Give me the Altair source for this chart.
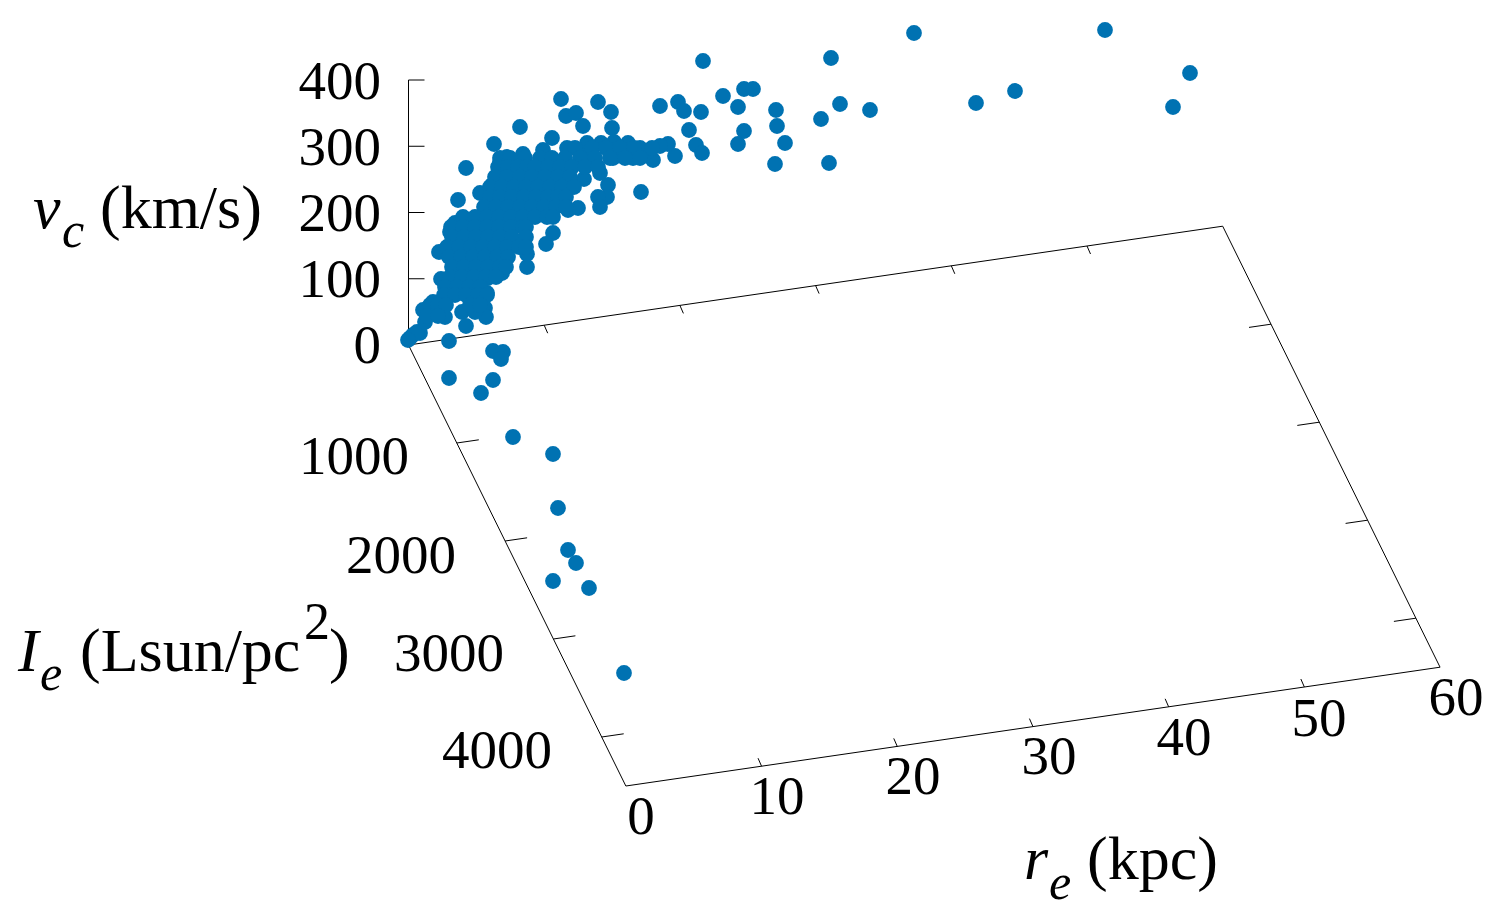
import altair as alt
import pandas as pd

# Screen-plane positions of the galaxies
outer_x = [914,1105,1190,1173,1015,976,703,831,840,870,821,776,777,785,775,829,744,738,723,738,744,753,
           678,684,701,660,689,696,702,675,668,660,641,
           561,598,611,566,576,583,612,520,494,466,653,647,633,628,640,614,613,601,587,585,600,608,607,598,600,
           584,578,568,553,546,552,543,567,523,507,500,480,458,492,439,450,455,441,487,527,527,502,488,
           445,462,485,486,466,475,423,433,443,420,413,410,417,425,408,
           449,493,503,501,449,493,481,513,553,558,568,576,553,589,624]
outer_y = [33,30,73,107,91,103,61,58,104,110,119,110,126,143,164,163,131,144,96,107,89,89,
           102,111,112,106,130,145,153,156,144,146,192,
           99,102,112,116,113,126,128,127,144,168,160,152,158,143,148,142,158,143,143,155,173,185,197,197,207,
           179,208,210,233,244,138,150,148,154,157,162,193,200,185,252,232,223,279,293,267,254,273,278,
           317,312,308,317,326,312,310,302,302,333,335,338,332,322,340,
           341,351,352,359,378,380,393,437,454,508,550,563,581,588,673]

# Dense cluster, row by row
cluster_rows = {
    148: [575,592,606,620,634,652],
    158: [500,510,525,540,552,565,580,595,610,625,640],
    167: [498,508,518,527,535,548,560,572,585,598],
    177: [495,507,520,532,545,558,570],
    187: [490,502,514,526,538,550,562,574],
    197: [490,500,512,524,536,548,558,566],
    207: [484,496,508,520,532,544,556,566],
    217: [463,475,487,499,511,523,535,547,553],
    227: [451,463,475,487,499,511,523,526],
    237: [452,464,476,488,500,512,526],
    247: [447,459,471,483,495,507,519,526],
    257: [449,461,473,485,497,508],
    267: [452,464,476,488,500,506],
    277: [450,462,474,486,496],
    287: [445,457,469,480],
    295: [444,455,466,478,487],
    305: [430,438,446,470,480],
    316: [427,438],
}

# Axis ticks and labels
re_ticks = [10, 20, 30, 40, 50]
ie_ticks = [1000, 2000, 3000, 4000]
vc_ticks = [100, 200, 300, 400]
RE_MAX, IE_MAX = 60, 4500

def project(re, ie, vc=0):
    return (408.5 + re * 13.57 + ie * 0.0483, 345 - re * 1.98 + ie * 0.098 - vc * 0.6625)

segments = []
def seg(a, b, d=(0, 0)):
    p, q = project(*a), project(*b)
    segments.append(dict(x=p[0], y=p[1], x2=q[0] + d[0], y2=q[1] + d[1]))

seg((0, 0), (RE_MAX, 0)); seg((RE_MAX, 0), (RE_MAX, IE_MAX))
seg((RE_MAX, IE_MAX), (0, IE_MAX)); seg((0, IE_MAX), (0, 0))
seg((0, 0, 0), (0, 0, 400))
for r in re_ticks:
    seg((r, 0), (r, 0), (3.5, 8))
    seg((r, IE_MAX), (r, IE_MAX), (-3.5, -8))
for i in ie_ticks:
    seg((0, i), (0, i), (22, -3.2))
    seg((RE_MAX, i), (RE_MAX, i), (-22, 3.2))
for v in vc_ticks:
    seg((0, 0, v), (0, 0, v), (16, 0))

tick_text = ["400","300","200","100","0","1000","2000","3000","4000"]
tick_x = [381,381,381,381,381,409,456,504,552]
tick_y = [99,165,231,297,363,474,573,671,768]
re_text = ["0","10","20","30","40","50","60"]
re_x = [641,777,913,1049,1184,1319,1456]
re_y = [834,814,794,774,755,736,715]

italic_text = ["v","I","r"]
italic_x = [33,18,1024]
italic_y = [228,671,879]
sub_text = ["c","e","e"]
sub_x = [62,40,1049]
sub_y = [247,690,899]
plain_text = ["(km/s)","(Lsun/pc",")","(kpc)"]
plain_x = [100,80,329,1087]
plain_y = [228,671,671,879]
sup_text, sup_x, sup_y = ["2"], [304], [639]

X = alt.Scale(domain=[8, 1491], range=[0, 1483], nice=False, zero=False)
Y = alt.Scale(domain=[905, 8], range=[897, 0], nice=False, zero=False)

def xe(f="x"): return alt.X(f"{f}:Q", scale=X, axis=None)
def ye(f="y"): return alt.Y(f"{f}:Q", scale=Y, axis=None)

def labels(text, xs, ys, size, align, style="normal"):
    df = pd.DataFrame(dict(t=text, x=xs, y=ys))
    return alt.Chart(df).mark_text(font="Liberation Serif", fontSize=size, align=align,
                                   baseline="alphabetic", fontStyle=style, color="black").encode(
        x=xe(), y=ye(), text="t:N")

px = list(outer_x); py = list(outer_y)
for row_y, row_x in cluster_rows.items():
    px += row_x; py += [row_y] * len(row_x)
points = pd.DataFrame(dict(x=px, y=py))

frame = alt.Chart(pd.DataFrame(segments)).mark_rule(color="black", strokeWidth=1).encode(
    x=xe(), y=ye(), x2="x2:Q", y2="y2:Q")
dots = alt.Chart(points).mark_point(filled=True, shape="circle", size=250, color="#0072B2", opacity=1).encode(
    x=xe(), y=ye())

chart = alt.layer(
    frame, dots,
    labels(tick_text, tick_x, tick_y, 55, "right"),
    labels(re_text, re_x, re_y, 55, "center"),
    labels(italic_text, italic_x, italic_y, 62, "left", "italic"),
    labels(sub_text, sub_x, sub_y, 50, "left", "italic"),
    labels(plain_text, plain_x, plain_y, 62, "left"),
    labels(sup_text, sup_x, sup_y, 52, "left"),
).properties(width=1483, height=897, padding=0, autosize=alt.AutoSizeParams(type="none"),
             background="white").configure_view(stroke=None)

chart.save("out.html", embed_options={"renderer": "svg", "actions": False})
